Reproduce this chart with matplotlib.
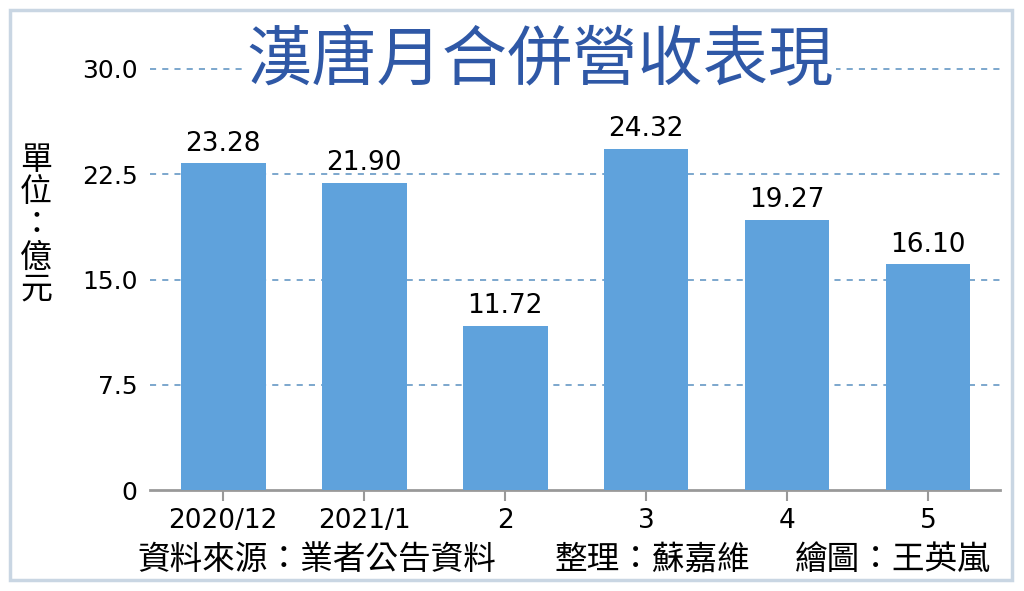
import matplotlib
matplotlib.use("Agg")
import matplotlib.pyplot as plt
from matplotlib.patches import Rectangle

# Données : 營收 (億元)
mois = ["2020/12", "2021/1", "2", "3", "4", "5"]
valeurs = [23.28, 21.90, 11.72, 24.32, 19.27, 16.10]
ticks_y = [0, 7.5, 15.0, 22.5, 30.0]
labels_y = ["0", "7.5", "15.0", "22.5", "30.0"]

titre = "漢唐月合併營收表現"
unite = "單位：億元"
source = "資料來源：業者公告資料"
editeur = "整理：蘇嘉維"
dessin = "繪圖：王英嵐"

CJK = ["Noto Sans CJK TC", "DejaVu Sans"]
NUM = ["DejaVu Sans"]
BLEU_BARRE = "#5fa2dc"
BLEU_TITRE = "#2f58a6"

fig = plt.figure(figsize=(10.24, 5.91), dpi=100)
fig.patch.set_facecolor("white")

# cadre extérieur
fig.patches.append(Rectangle((10 / 1024, 1 - 580 / 591), 1002 / 1024, 570 / 591,
                             transform=fig.transFigure, fill=False,
                             edgecolor="#c9d6e3", linewidth=2.5))

ax = fig.add_axes([150 / 1024, 101 / 591, 850 / 1024, 421 / 591])
x = range(len(mois))
ax.bar(x, valeurs, width=0.6, color=BLEU_BARRE, zorder=3)

for i, v in enumerate(valeurs):
    ax.text(i, v + 0.45, f"{v:.2f}", ha="center", va="bottom",
            fontsize=19, family=NUM, color="black", zorder=4)

ax.set_xlim(-0.52, 5.51)
ax.set_ylim(0, 30)
ax.set_yticks(ticks_y)
ax.set_yticklabels(labels_y, family=NUM, fontsize=18)
ax.set_xticks(list(x))
ax.set_xticklabels(mois, family=NUM, fontsize=19)
ax.tick_params(axis="y", length=0, pad=9)
ax.tick_params(axis="x", length=8, width=1.5, color="#999999", pad=5)

for yv in ticks_y[1:]:
    ax.axhline(yv, color="#5890c0", linestyle=(0, (4, 4)), linewidth=1.1,
               zorder=1, clip_on=False)

for s in ["top", "right", "left"]:
    ax.spines[s].set_visible(False)
ax.spines["bottom"].set_color("#999999")
ax.spines["bottom"].set_linewidth(2)

# titre avec fond blanc qui masque la grille
fig.text(540 / 1024, 1 - 62 / 591, titre, ha="center", va="center",
         fontsize=47, fontweight="medium", family=CJK, color=BLEU_TITRE,
         bbox=dict(facecolor="white", edgecolor="none", pad=2))

fig.text(36 / 1024, 1 - 225 / 591, "\n".join(unite), ha="center", va="center",
         fontsize=23, family=CJK, linespacing=1.02)

fig.text(137 / 1024, 1 - 560 / 591, source, ha="left", va="center",
         fontsize=23.5, family=CJK)
fig.text(555 / 1024, 1 - 560 / 591, editeur, ha="left", va="center",
         fontsize=23.5, family=CJK)
fig.text(795 / 1024, 1 - 560 / 591, dessin, ha="left", va="center",
         fontsize=23.5, family=CJK)

plt.savefig("out.png", dpi=100)
